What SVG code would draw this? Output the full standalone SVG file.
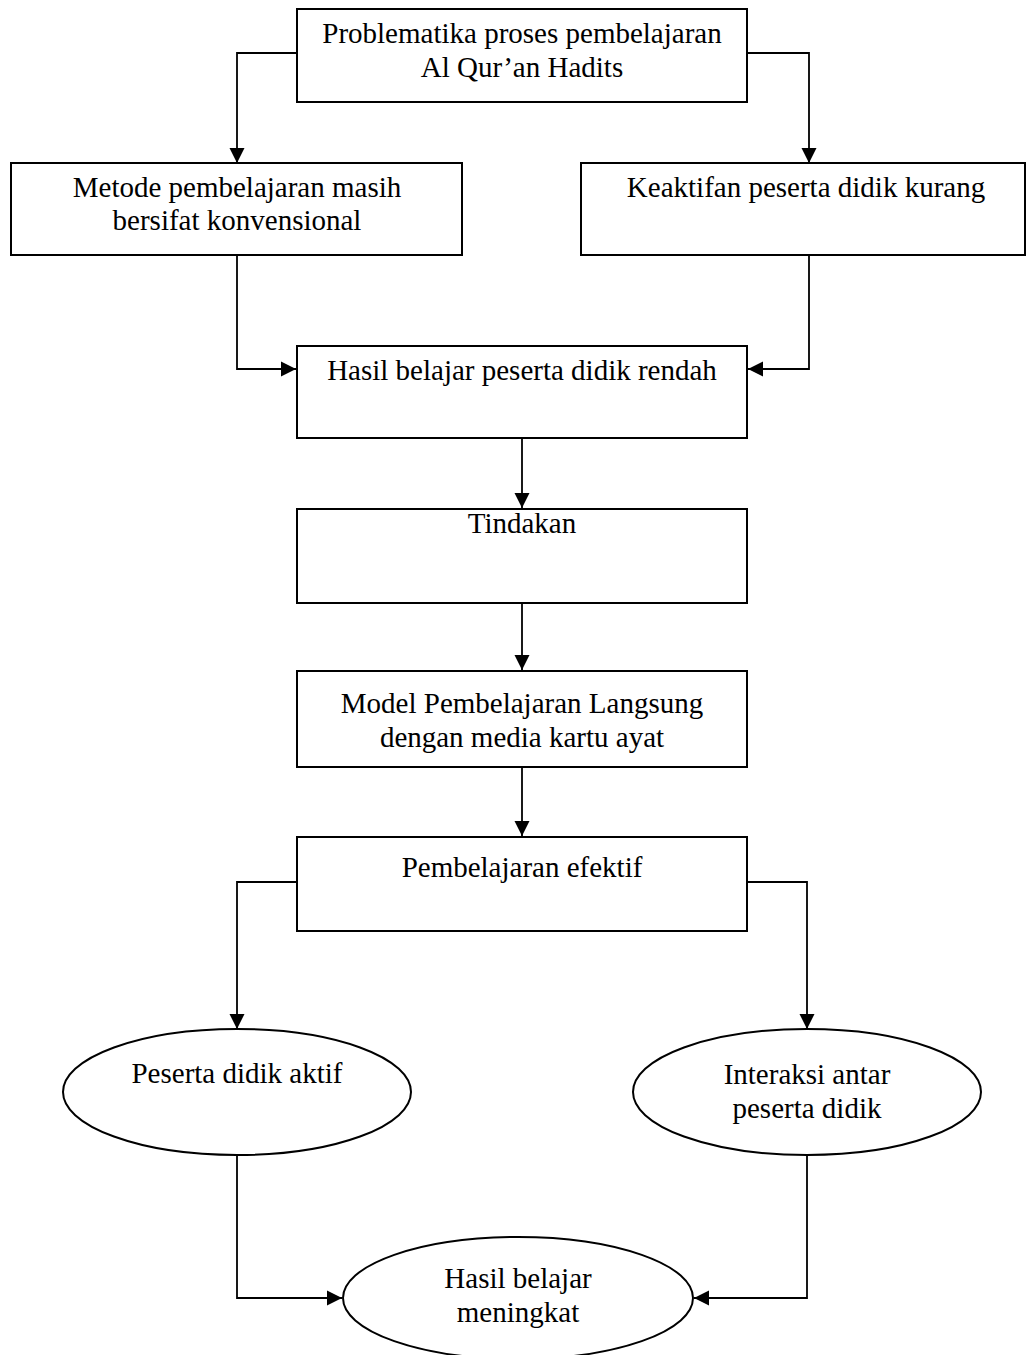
<svg xmlns="http://www.w3.org/2000/svg" width="1026" height="1355" viewBox="0 0 1026 1355">
<style>
.n{fill:#fff;stroke:#000;stroke-width:2}
.t{font-family:"Liberation Serif","Times New Roman",serif;font-size:29px;fill:#000;text-anchor:middle}
.c{fill:none;stroke:#000;stroke-width:1.8;marker-end:url(#ah)}
</style>
<defs>
<marker id="ah" markerUnits="userSpaceOnUse" markerWidth="16" markerHeight="16" viewBox="0 0 16 16" refX="15" refY="8" orient="auto">
<path d="M0,0.5 L15,8 L0,15.5 Z" fill="#000"/>
</marker>
</defs>
<rect width="1026" height="1355" fill="#fff"/>
<g id="connectors">
<path class="c" d="M297,53 H237 V163"/>
<path class="c" d="M747,53 H809 V163"/>
<path class="c" d="M237,255 V369 H296"/>
<path class="c" d="M809,255 V369 H748"/>
<path class="c" d="M522,438 V508"/>
<path class="c" d="M522,603 V670"/>
<path class="c" d="M522,767 V836"/>
<path class="c" d="M297,882 H237 V1029"/>
<path class="c" d="M747,882 H807 V1029"/>
<path class="c" d="M237,1155 V1298 H342"/>
<path class="c" d="M807,1155 V1298 H694"/>
</g>
<g id="n1"><rect class="n" x="297" y="9" width="450" height="93"/>
<text class="t" x="522" y="43">Problematika proses pembelajaran</text>
<text class="t" x="522" y="77">Al Qur’an Hadits</text></g>
<g id="n2"><rect class="n" x="11" y="163" width="451" height="92"/>
<text class="t" x="237" y="197">Metode pembelajaran masih</text>
<text class="t" x="237" y="230">bersifat konvensional</text></g>
<g id="n3"><rect class="n" x="581" y="163" width="444" height="92"/>
<text class="t" x="806" y="197">Keaktifan peserta didik kurang</text></g>
<g id="n4"><rect class="n" x="297" y="346" width="450" height="92"/>
<text class="t" x="522" y="380">Hasil belajar peserta didik rendah</text></g>
<g id="n5"><rect class="n" x="297" y="509" width="450" height="94"/>
<text class="t" x="522" y="533">Tindakan</text></g>
<g id="n6"><rect class="n" x="297" y="671" width="450" height="96"/>
<text class="t" x="522" y="713">Model Pembelajaran Langsung</text>
<text class="t" x="522" y="747">dengan media kartu ayat</text></g>
<g id="n7"><rect class="n" x="297" y="837" width="450" height="94"/>
<text class="t" x="522" y="877">Pembelajaran efektif</text></g>
<g id="n8"><ellipse class="n" cx="237" cy="1092" rx="174" ry="63"/>
<text class="t" x="237" y="1083">Peserta didik aktif</text></g>
<g id="n9"><ellipse class="n" cx="807" cy="1092" rx="174" ry="63"/>
<text class="t" x="807" y="1084">Interaksi antar</text>
<text class="t" x="807" y="1118">peserta didik</text></g>
<g id="n10"><ellipse class="n" cx="518" cy="1298" rx="175" ry="61"/>
<text class="t" x="518" y="1288">Hasil belajar</text>
<text class="t" x="518" y="1322">meningkat</text></g>
</svg>
